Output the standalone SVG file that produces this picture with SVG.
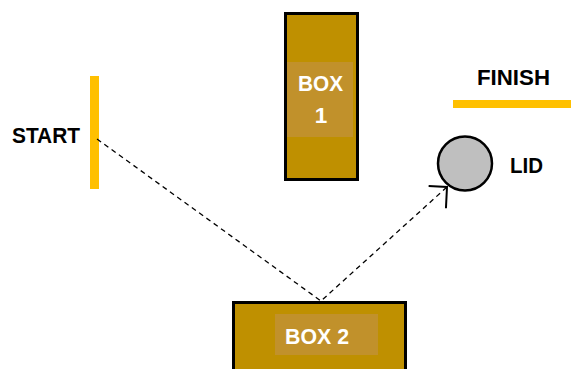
<svg xmlns="http://www.w3.org/2000/svg" width="571" height="369" viewBox="0 0 571 369">
<defs>
<style>
.box{fill:#BF9000;stroke:#000;stroke-width:3}
.inner{fill:#C1912B}
.lbl{font-family:"Liberation Sans",Arial,sans-serif;font-weight:bold;font-size:22.5px}
.w{fill:#fff}
.k{fill:#000}
.bar{fill:#FFC000}
.conn{fill:none;stroke:#000;stroke-width:1.3;stroke-dasharray:5,4}
</style>
<marker id="arr" markerUnits="userSpaceOnUse" viewBox="-14 -14 16 28" refX="0" refY="0" markerWidth="16" markerHeight="28" orient="auto" overflow="visible">
<path d="M-13,-13 L0,0 L-15,15" fill="none" stroke="#000" stroke-width="2"/>
</marker>
</defs>
<rect width="571" height="369" fill="#fff"/>
<g id="start">
<rect class="bar" x="90" y="76" width="9" height="113"/>
<text class="lbl k" x="12" y="143" textLength="68" lengthAdjust="spacingAndGlyphs">START</text>
</g>
<g id="finish">
<rect class="bar" x="453" y="100" width="118" height="8"/>
<text class="lbl k" x="477" y="85" textLength="73" lengthAdjust="spacingAndGlyphs">FINISH</text>
</g>
<g id="box1">
<rect class="box" x="285.5" y="13.5" width="72" height="166"/>
<rect class="inner" x="287" y="62" width="66" height="75"/>
<text class="lbl w" x="298" y="91" textLength="45" lengthAdjust="spacingAndGlyphs">BOX</text>
<text class="lbl w" x="321" y="123" text-anchor="middle">1</text>
</g>
<g id="box2">
<rect class="box" x="233.5" y="302.5" width="172" height="80"/>
<rect class="inner" x="275" y="314" width="103" height="41"/>
<text class="lbl w" x="285" y="344" textLength="64" lengthAdjust="spacingAndGlyphs">BOX 2</text>
</g>
<g id="lid">
<circle cx="465" cy="163.5" r="27" fill="#BFBFBF" stroke="#000" stroke-width="2.5"/>
<text class="lbl k" x="510" y="173" textLength="33" lengthAdjust="spacingAndGlyphs">LID</text>
</g>
<g id="connectors">
<path class="conn" d="M97,139 L321,301 L447,187" marker-end="url(#arr)"/>
</g>
</svg>
